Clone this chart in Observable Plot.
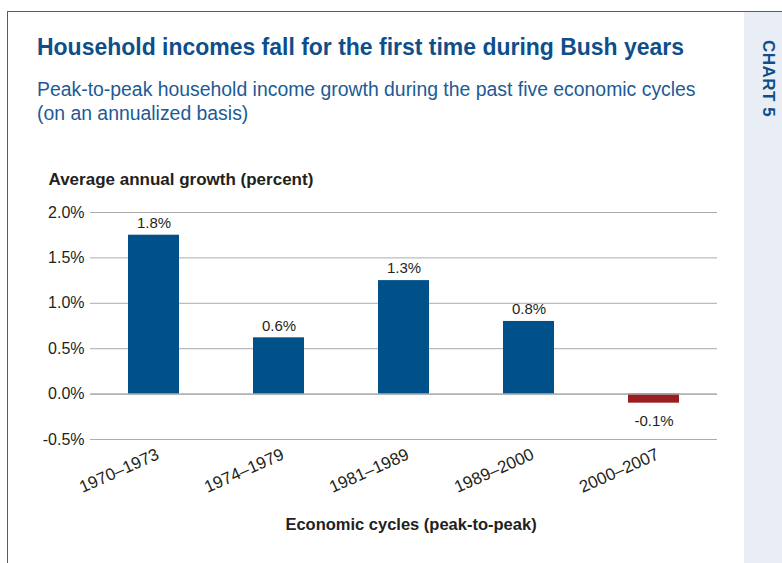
<!DOCTYPE html>
<html><head><meta charset="utf-8">
<script src="https://cdn.jsdelivr.net/npm/d3@7"></script>
<script src="https://cdn.jsdelivr.net/npm/@observablehq/plot@0.6"></script>
<style>
body{margin:0;background:#fff;width:782px;height:563px;overflow:hidden;position:relative;font-family:"Liberation Sans",Arial,sans-serif;color:#231f20}
#frame{position:absolute;left:7px;top:11px;right:0;bottom:0;border-left:1.5px solid #2d67a1;border-top:1.5px solid #2d67a1}
#side{position:absolute;left:744px;top:12px;width:38px;bottom:0;background:#e9eef6}
#tag{position:absolute;left:758px;top:40px;writing-mode:vertical-rl;font-weight:bold;font-size:17px;letter-spacing:0.5px;color:#0e4f8b;line-height:20px}
#title{position:absolute;left:37px;top:34px;font-weight:bold;font-size:24px;line-height:26px;color:#0e4f8b;white-space:nowrap;transform:scaleX(0.957);transform-origin:left top}
#sub{position:absolute;left:37px;top:77px;font-size:19.4px;line-height:24px;color:#1c5b96;white-space:nowrap}
#chart{position:absolute;left:0;top:150px}
</style></head>
<body>
<div id="frame"></div>
<div id="side"></div>
<div id="tag">CHART 5</div>
<div id="title">Household incomes fall for the first time during Bush years</div>
<div id="sub">Peak-to-peak household income growth during the past five economic cycles<br>(on an annualized basis)</div>
<div id="chart"></div>
<script>
const cycles = ["1970–1973", "1974–1979", "1981–1989", "1989–2000", "2000–2007"];
const growth = [1.75, 0.62, 1.25, 0.80, -0.10];
const valueLabels = ["1.8%", "0.6%", "1.3%", "0.8%", "-0.1%"];
const yTicks = [-0.5, 0, 0.5, 1.0, 1.5, 2.0];
const yTitle = "Average annual growth (percent)";
const xTitle = "Economic cycles (peak-to-peak)";

const data = cycles.map((c, i) => ({cycle: c, value: growth[i], label: valueLabels[i]}));
const blue = "#00518a", red = "#9b1d20";

const plot = Plot.plot({
  width: 744, height: 413,
  marginLeft: 90, marginRight: 27, marginTop: 62, marginBottom: 124,
  style: {fontFamily: "'Liberation Sans',Arial,sans-serif", color: "#231f20", background: "transparent"},
  x: {domain: cycles, paddingInner: 0.592, paddingOuter: 0.304, label: null},
  y: {domain: [-0.5, 2.0], label: null},
  marks: [
    Plot.gridY(yTicks, {stroke: "#a9abae", strokeOpacity: 1, strokeWidth: 1}),
    Plot.barY(data, {x: "cycle", y: "value", fill: d => d.value < 0 ? red : blue}),
    Plot.ruleY([0], {stroke: "#a9abae", strokeWidth: 1.2}),
    Plot.axisY(yTicks, {tickSize: 0, tickPadding: 6, fontSize: 16, tickFormat: d => d.toFixed(1) + "%", label: null}),
    Plot.axisX({tickSize: 0, tickRotate: -24, tickPadding: 4, fontSize: 17, label: null, dx: 4, dy: 10}),
    Plot.text(data.filter(d => d.value >= 0), {x: "cycle", y: "value", text: "label", dy: -12, fontSize: 15}),
    Plot.text(data.filter(d => d.value < 0), {x: "cycle", y: "value", text: "label", dy: 18, fontSize: 15}),
    Plot.text([yTitle], {frameAnchor: "top-left", textAnchor: "start", dx: -42, dy: -40, fontSize: 17, fontWeight: "bold"}),
    Plot.text([xTitle], {frameAnchor: "bottom", dx: 7, dy: 90, fontSize: 16.5, fontWeight: "bold"})
  ]
});
document.getElementById("chart").appendChild(plot);
</script>
</body></html>
